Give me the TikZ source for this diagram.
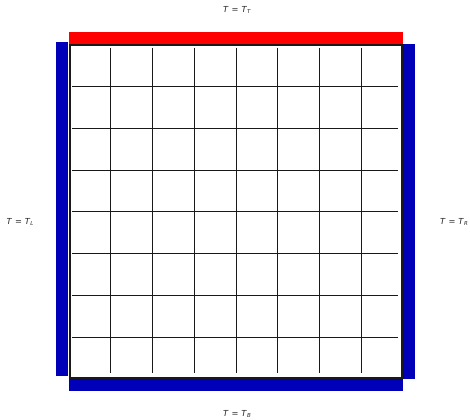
\documentclass[tikz,border=0pt]{standalone}
\usepackage{fontspec}
\setmainfont{DejaVu Sans}
\definecolor{bcblue}{RGB}{0,0,185}
\definecolor{bcred}{RGB}{255,0,0}
\definecolor{lblgray}{RGB}{40,40,40}
\newcommand{\bclbl}[1]{\textit{T}\hspace{0.35em}=\hspace{0.35em}\textit{T}\raisebox{-0.3ex}{\fontsize{5.5}{6}\selectfont\textit{#1}}}
\begin{document}
\begin{tikzpicture}[x=1bp,y=-1bp,
  bar/.style={fill=#1,draw=none},
  gridline/.style={draw=black!90,line width=0.9bp},
  frame/.style={draw=black!90,line width=2bp},
  lbl/.style={font=\fontsize{8.3}{10}\selectfont,text=lblgray,inner sep=0pt}]
\useasboundingbox (0,0) rectangle (470,419);
% boundary bars
\fill[bcred] (69,32) rectangle (403,44);
\fill[bcblue] (56.3,42.3) rectangle (68.3,376.3);
\fill[bcblue] (403.3,44.3) rectangle (415,379);
\fill[bcblue] (69,379.3) rectangle (402.7,390.7);
% grid
\foreach \i in {1,...,7}{
  \draw[gridline] ({69+41.75*\i},47.5) -- ({69+41.75*\i},373);
  \draw[gridline] (72,{44.8+41.75*\i}) -- (398,{44.8+41.75*\i});
}
% frame
\draw[frame] (70,45.3) rectangle (401.7,377.6);
% labels
\node[lbl] (top) at (237,10) {\bclbl{T}};
\node[lbl] (left) at (20,222) {\bclbl{L}};
\node[lbl] (right) at (454,222) {\bclbl{R}};
\node[lbl] (bottom) at (237,414) {\bclbl{B}};
\end{tikzpicture}
\end{document}
